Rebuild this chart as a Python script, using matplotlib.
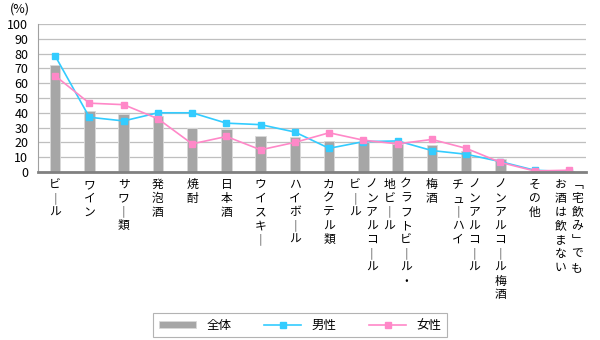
import matplotlib
matplotlib.use('Agg')
import matplotlib.pyplot as plt
import matplotlib.transforms as mtransforms
import numpy as np

plt.rcParams['font.family'] = ['Noto Sans CJK JP', 'DejaVu Sans']

# categories (each label: list of vertical columns, right to left)
categories = [
    ['ビール'], ['ワイン'], ['サワー類'], ['発泡酒'], ['焼酎'], ['日本酒'],
    ['ウイスキー'], ['ハイボール'], ['カクテル類'], ['ノンアルコール', 'ビール'],
    ['クラフトビール・', '地ビール'], ['梅酒'], ['ノンアルコール', 'チューハイ'],
    ['ノンアルコール梅酒'], ['その他'], ['「宅飲み」でも', 'お酒は飲まない'],
]
total = [72, 41, 39, 38, 30, 29, 24, 23.5, 21, 20, 19, 18, 14, 9, 1, 0.5]
male = [78.5, 37, 34.5, 40, 40, 33, 32, 27, 16, 20.5, 21, 14.5, 12, 7, 1.2, 0.2]
female = [65, 46.5, 45.5, 36, 19, 24, 15, 20, 26.5, 21.5, 19, 22, 16, 6.5, 0.7, 1.2]

# vertical writing substitutions
vert = {'ー': '｜', '「': '﹁', '」': '﹂'}

fig = plt.figure(figsize=(6, 3.4), dpi=100)
ax = fig.add_axes([38/600, 1-172/340, 548/600, 148/340])

x = np.arange(len(categories))
b = ax.bar(x, total, width=0.3, color='#a6a6a6', edgecolor='#d9d9d9', linewidth=0.6,
           label='全体', zorder=2)
l1, = ax.plot(x, male, color='#33ccff', lw=1.2, marker='s', ms=4.5, label='男性', zorder=3)
l2, = ax.plot(x, female, color='#ff88c8', lw=1.2, marker='s', ms=4.5, label='女性', zorder=4)

ax.set_xlim(-0.5, len(categories) - 0.5)
ax.set_ylim(0, 100)
ax.set_yticks(range(0, 101, 10))
ax.tick_params(axis='y', length=0, labelsize=9, pad=7)
ax.set_xticks([])
ax.yaxis.grid(True, color='#bfbfbf', lw=0.9, zorder=0)
for s in ['top', 'right']:
    ax.spines[s].set_visible(False)
ax.spines['left'].set_color('#a0a0a0')
ax.spines['bottom'].set_color('#808080')
ax.spines['bottom'].set_linewidth(2)
ax.spines['bottom'].set_zorder(5)

trans = ax.get_xaxis_transform()
for i, cols in enumerate(categories):
    n = len(cols)
    for j, col in enumerate(cols):
        dx = ((n - 1) / 2 - j) * 12
        t = mtransforms.offset_copy(trans, fig=fig, x=dx, y=0, units='points')
        txt = '\n'.join(vert.get(c, c) for c in col)
        ax.text(i, -0.04, txt, transform=t, ha='center', va='top',
                fontsize=8.5, linespacing=1.08, color='#000000')

fig.text(10/600, 1-9/340, '(%)', fontsize=9, va='center', ha='left')

leg = fig.legend([b, l1, l2], ['全体', '男性', '女性'], loc='center',
                 bbox_to_anchor=(300/600, 1-325/340), ncol=3,
                 fontsize=9, frameon=True, fancybox=False, edgecolor='#a0a0a0',
                 handlelength=3, handleheight=0.5, columnspacing=2.6, borderpad=0.45)
leg.get_frame().set_linewidth(0.8)

fig.savefig('out.png', dpi=100)
